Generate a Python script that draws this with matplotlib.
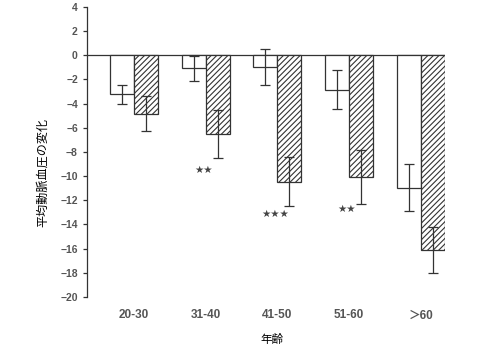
import numpy as np
import matplotlib
matplotlib.use('Agg')
import matplotlib.pyplot as plt

plt.rcParams['font.family'] = ['Noto Sans CJK JP', 'DejaVu Sans']
plt.rcParams['hatch.linewidth'] = 0.8
plt.rcParams['hatch.color'] = '#333333'

# データ
groups = ['20-30', '31-40', '41-50', '51-60', '＞60']
white_vals = [-3.25, -1.1, -0.97, -2.84, -10.95]
white_err = [0.8, 1.05, 1.5, 1.6, 1.95]
hatch_vals = [-4.86, -6.5, -10.45, -10.05, -16.15]
hatch_err = [1.45, 2.0, 2.05, 2.25, 1.9]
stars = ['', '★★', '★★★', '★★', '']
star_y = [0, -9.5, -13.1, -12.75, 0]
yticks = list(range(-20, 5, 2))

c = '#333333'
x = np.arange(len(groups))
w = 0.335

fig = plt.figure(figsize=(4.8, 3.6), dpi=100)
ax = fig.add_axes([0.181, 0.175, 0.746, 0.806])

ax.bar(x - w / 2, white_vals, w, color='white', edgecolor=c, linewidth=0.9)
ax.bar(x + w / 2, hatch_vals, w, color='white', edgecolor=c, linewidth=0.9, hatch='//////')
ax.errorbar(x - w / 2, white_vals, yerr=white_err, fmt='none', ecolor=c, elinewidth=0.9, capsize=3.5, capthick=0.9)
ax.errorbar(x + w / 2, hatch_vals, yerr=hatch_err, fmt='none', ecolor=c, elinewidth=0.9, capsize=3.5, capthick=0.9)
ax.axhline(0, color=c, lw=0.9, zorder=0)

for xi, s, sy in zip(x, stars, star_y):
    if s:
        ax.text(xi - 0.03, sy, s, ha='center', va='center', fontsize=7.5, color='#444444',
                family=['DejaVu Sans'])

ax.set_xlim(-0.655, 4.335)
ax.set_ylim(-20, 4)
ax.set_yticks(yticks)
ax.set_xticks(x)
ax.set_xticklabels(groups)
ax.tick_params(axis='x', length=0, pad=9, labelsize=8.5, labelcolor='#555555')
ax.tick_params(axis='y', length=3, width=0.9, color=c, labelsize=7.5, labelcolor='#555555')
for lab in ax.get_xticklabels() + ax.get_yticklabels():
    lab.set_fontweight('bold')
    lab.set_family(['Liberation Sans', 'Noto Sans CJK JP'])

for sp in ['top', 'right', 'bottom']:
    ax.spines[sp].set_visible(False)
ax.spines['left'].set_color(c)
ax.spines['left'].set_linewidth(0.9)

fig.text(0.088, 0.52, '平均動脈血圧の変化', fontsize=8.7, rotation=90, ha='center', va='center')
fig.text(0.567, 0.058, '年齢', fontsize=8.3, ha='center', va='center')

plt.savefig('out.png')
